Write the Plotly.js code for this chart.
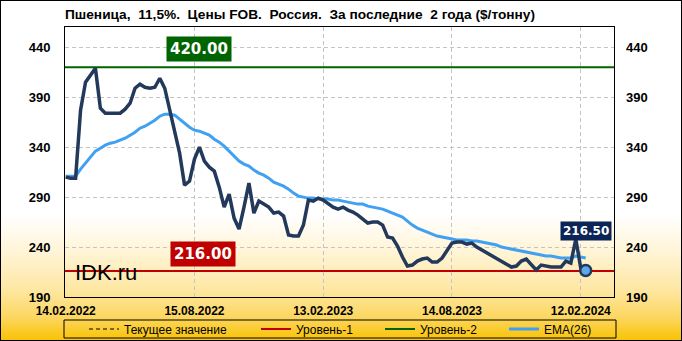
<!DOCTYPE html>
<html><head><meta charset="utf-8">
<script src="https://cdn.plot.ly/plotly-3.0.1.min.js"></script>
<style>
html,body{margin:0;padding:0;background:#fff;}
#wrap{position:relative;width:682px;height:341px;
 background:linear-gradient(180deg,#ffffff 0px,#ffffff 215px,#fff4d6 252px,#fee7a2 290px,#fcd65e 318px,#f9c200 341px);}
#chart{width:682px;height:341px;}
#frame{position:absolute;left:0;top:0;width:682px;height:341px;box-sizing:border-box;border:1px solid #000;pointer-events:none;}
</style></head><body>
<div id="wrap"><div id="chart"></div><div id="frame"></div></div>
<script>
// ---- data ----
const startDate = '2022-02-14'; // first weekly observation
const price = [
 310,309,309,377,405,412,419,379,374,374,
 374,374,378,384,399,403,400,399,400,409,
 399,378,356,334,302,306,328,340,326,320,
 316,300,280,293,269,258,280,304,274,286,
 283,280,274,275,271,252,251,251,262,287,
 286,289,287,283,280,278,280,277,275,272,
 268,264,265,265,262,250,249,241,230,221,
 222,226,228,229,225,225,229,237,244,245,
 245,243,244,240,237,234,231,228,225,222,
 220,221,226,228,222,217,222,221,220,220,
 220,226,224,248,219,216.5];
const ema = [
 311,311,311,318,324,331,336,339,342,344,
 345,347,349,352,355,359,361,364,367,371,
 373,373,372,368,364,360,357,356,354,352,
 348,345,341,336,331,326,323,321,317,314,
 312,309,305,303,301,298,294,291,290,289,
 289,288,288,288,287,287,286,285,284,283,
 283,281,280,279,278,276,274,272,270,266,
 262,259,257,255,253,251,250,249,248,247,
 247,247,246,246,245,244,243,242,240,239,
 238,237,236,235,234,233,232,231,231,230,
 229,229,229,231,230,229];
const level1 = 216;
const level2 = 420;
const currentValue = 216.5;
const xRange = ['2022-02-13','2024-03-30'];
const yRange = [190,460.3];
const tickDates = ['2022-02-14','2022-08-15','2023-02-13','2023-08-14','2024-02-12'];
const tickLabels = ['14.02.2022','15.08.2022','13.02.2023','14.08.2023','12.02.2024'];
const yTicks = [190,240,290,340,390,440];
const titleText = 'Пшеница,\u00a0 11,5%.\u00a0 Цены FOB.\u00a0 Россия.\u00a0 За последние\u00a0 2 года ($/тонну)';
const legendNames = ['Текущее значение','Уровень-1','Уровень-2','EMA(26)'];

// weekly dates
const t0 = Date.parse(startDate + 'T00:00:00Z');
const dates = price.map((_, i) => new Date(t0 + i*7*86400000).toISOString().slice(0,10));
const last = price.length - 1;

const F = 'Liberation Sans, Arial, sans-serif';
const FB = 'DejaVu Sans, Verdana, sans-serif';
const navy = '#22395b';

const traces = [
 {x:xRange, y:[currentValue,currentValue], mode:'lines', name:legendNames[0], legend:'legend',
  line:{color:'#000',width:1,dash:'4px,3px'}},
 {x:xRange, y:[level1,level1], mode:'lines', name:legendNames[1], legend:'legend2',
  line:{color:'#c00000',width:2}},
 {x:xRange, y:[level2,level2], mode:'lines', name:legendNames[2], legend:'legend3',
  line:{color:'#006400',width:2}},
 {x:dates, y:ema, mode:'lines', name:legendNames[3], legend:'legend4',
  line:{color:'#40a0f2',width:3}},
 {x:dates, y:price, mode:'lines', showlegend:false,
  line:{color:navy,width:3.5}},
 {x:[dates[last]], y:[price[last]], mode:'markers', showlegend:false,
  marker:{size:11,color:'#5aaae8',line:{color:navy,width:2.5}}},
 {x:[dates[0]], y:[null], yaxis:'y2', mode:'lines', showlegend:false}
];

const axisFont = {family:F, size:13, color:'#000', weight:'bold'};
const pw = 549, ph = 270;
function lg(px){ return {orientation:'h', xref:'paper', yref:'paper', x:(px-65)/pw, xanchor:'left',
  y:(297-329)/ph, yanchor:'middle', bgcolor:'rgba(0,0,0,0)', borderwidth:0,
  font:{family:F,size:12,color:'#000'}}; }

const layout = {
 width:682, height:341,
 margin:{l:65,r:68,t:27,b:44,pad:0,autoexpand:false},
 paper_bgcolor:'rgba(0,0,0,0)', plot_bgcolor:'rgba(0,0,0,0)',
 font:{family:F,color:'#000'},
 showlegend:true,
 title:{text:titleText, x:0, xref:'paper', xanchor:'left', y:1-14/341, yref:'container', yanchor:'middle',
  font:{family:F,size:13.7,color:'#000',weight:'bold'}},
 xaxis:{type:'date', range:xRange, tickmode:'array', tickvals:tickDates, ticktext:tickLabels,
  showgrid:true, gridcolor:'#c4c4c4', gridwidth:1, griddash:'4px,3px',
  showline:true, linecolor:'#000', linewidth:1, mirror:true, ticks:'', zeroline:false,
  ticklabelstandoff:3,
  tickfont:{family:F,size:12,color:'#000',weight:'bold'}, fixedrange:true},
 yaxis:{range:yRange, tickmode:'array', tickvals:yTicks,
  showgrid:true, gridcolor:'#c4c4c4', gridwidth:1, griddash:'4px,3px',
  showline:true, linecolor:'#000', linewidth:1, mirror:true, ticks:'', zeroline:false,
  ticklabelstandoff:11, tickfont:axisFont, fixedrange:true},
 yaxis2:{range:yRange, overlaying:'y', side:'right', tickmode:'array', tickvals:yTicks,
  showgrid:false, showline:false, ticks:'', zeroline:false,
  ticklabelstandoff:11, tickfont:axisFont, fixedrange:true},
 legend:lg(84), legend2:lg(256), legend3:lg(380), legend4:lg(504),
 shapes:[{type:'rect', xref:'paper', yref:'paper', x0:(64-65)/pw, x1:(616-65)/pw,
  y0:(297-338)/ph, y1:(297-320)/ph, line:{color:'#000',width:1}, fillcolor:'rgba(0,0,0,0)'}],
 annotations:[
  {text:'420.00', xref:'paper', x:(199-65)/pw, xanchor:'center', yref:'y', y:level2, yanchor:'bottom', yshift:5,
   showarrow:false, bgcolor:'#006400', borderpad:3, font:{family:FB,size:15,color:'#fff',weight:'bold'}},
  {text:'216.00', xref:'paper', x:(203-65)/pw, xanchor:'center', yref:'y', y:level1, yanchor:'bottom', yshift:4,
   showarrow:false, bgcolor:'#c00000', borderpad:3, font:{family:FB,size:15,color:'#fff',weight:'bold'}},
  {text:'216.50', xref:'x', x:dates[last], xanchor:'center', yref:'y', y:price[last], yanchor:'bottom', yshift:30,
   showarrow:false, bgcolor:'#0b2656', borderpad:2, font:{family:FB,size:12,color:'#fff',weight:'bold'}},
  {text:'IDK.ru', xref:'paper', x:(73-65)/pw, xanchor:'left', yref:'paper', y:(297-272)/ph, yanchor:'middle',
   showarrow:false, font:{family:F,size:22,color:'#000'}}
 ]
};

Plotly.newPlot('chart', traces, layout, {staticPlot:true, displayModeBar:false});
</script>
</body></html>
